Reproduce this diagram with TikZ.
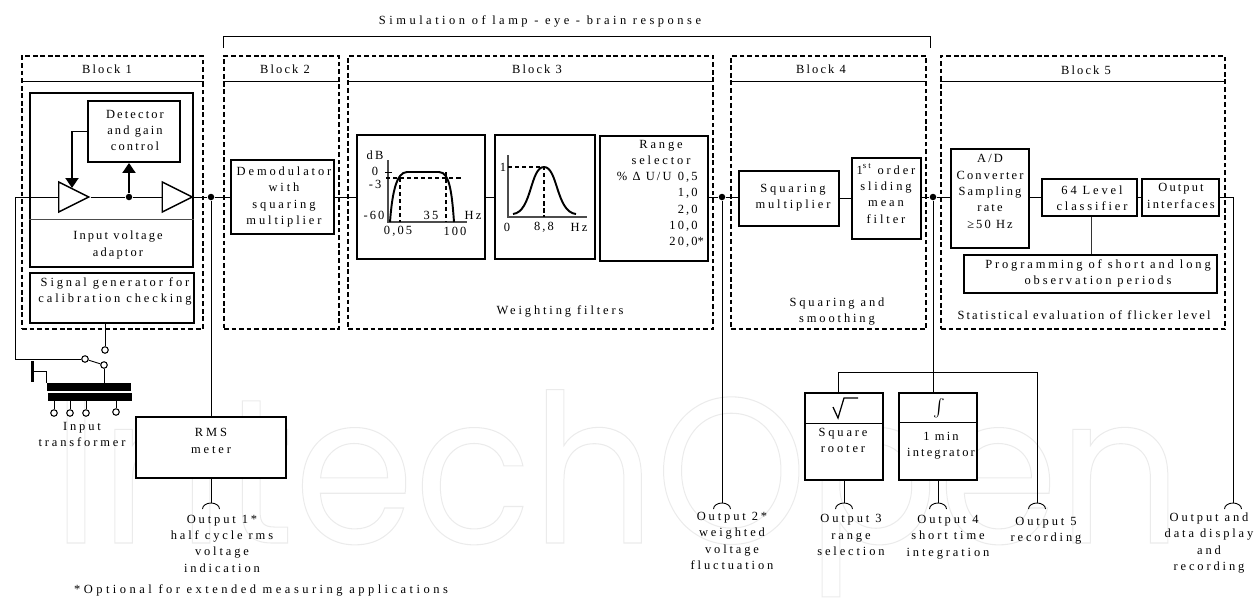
\documentclass[tikz,border=0pt]{standalone}
\usepackage{fontspec}
\setmainfont[LetterSpace=17]{Liberation Serif}
\newfontfamily\widefam[LetterSpace=23]{Liberation Serif}
\newfontfamily\xwidefam[LetterSpace=28]{Liberation Serif}
\newfontfamily\wmfont{Poppins}
\usetikzlibrary{arrows.meta,positioning,shapes.geometric}
\newcommand{\labfont}{\fontsize{7.1}{9.3}\selectfont}

\begin{document}
\begin{tikzpicture}[
    x=0.02cm, y=-0.02cm,
    wh/.style 2 args={minimum width=#1*0.02cm, minimum height=#2*0.02cm},
    blockframe/.style={draw, line width=1.4pt, dash pattern=on 2.7pt off 1.6pt, inner sep=0pt},
    sbox/.style={draw, line width=1.1pt, fill=white, inner sep=0pt},
    wire/.style={line width=0.5pt},
    lab/.style={font=\labfont, align=center, inner sep=0pt},
    labw/.style={lab, font=\labfont\widefam},
    labx/.style={lab, font=\labfont\xwidefam},
    dotnode/.style={circle, fill=black, inner sep=0pt, minimum size=0.13cm},
    term/.style={circle, draw, line width=0.6pt, fill=white, inner sep=0pt, minimum size=0.13cm},
    amp/.style={isosceles triangle, isosceles triangle stretches, draw, line width=0.8pt, inner sep=0pt, wh={30}{30}},
    core/.style={fill=black, inner sep=0pt},
    feed/.style={line width=1.1pt, -{Triangle[length=0.2cm, width=0.26cm]}},
    chart/.style={line width=1.1pt},
    chartdash/.style={line width=0.9pt, dash pattern=on 2.4pt off 1.6pt},
    axis/.style={line width=0.7pt, black!70},
    jackcap/.pic={\draw[wire] (-8.5,6) arc[start angle=180, end angle=0, x radius=0.17cm, y radius=0.12cm];},
]
\useasboundingbox (0,0) rectangle (1260,599);

% Watermark behind everything
\node[anchor=base west, inner sep=0pt, font=\fontsize{118}{118}\selectfont, transform shape, xscale=0.933] (wm) at (52,543)
    {\special{pdf:literal 1 Tr 0.6 w 0.92 G}\wmfont IntechOpen\special{pdf:literal 0 Tr}};

% Top: bracket
\node[labx] (simtxt) at (540,21) {Simulation of lamp - eye - brain response};
\coordinate (brl) at (223,48);
\coordinate (brr) at (930,48);
\coordinate (brt) at (0,36);
\draw[wire] (brl) -- (brl |- brt) -- (brr |- brt) -- (brr);

% Dashed blocks
\node[blockframe, wh={181}{273}] (bk1) at (112.5,192.5) {};
\node[blockframe, wh={115}{273}] (bk2) at (281.5,192.5) {};
\node[blockframe, wh={365}{273}] (bk3) at (530.5,192.5) {};
\node[blockframe, wh={195}{273}] (bk4) at (828.5,192.5) {};
\node[blockframe, wh={284}{273}] (bk5) at (1083,192.5) {};
\coordinate (hdr) at (0,81);
\draw[wire] (bk1.west |- hdr) -- (bk1.east |- hdr);
\draw[wire] (bk2.west |- hdr) -- (bk2.east |- hdr);
\draw[wire] (bk3.west |- hdr) -- (bk3.east |- hdr);
\draw[wire] (bk4.west |- hdr) -- (bk4.east |- hdr);
\draw[wire] (bk5.west |- hdr) -- (bk5.east |- hdr);
\node[lab] (bk1txt) at (107,69) {Block 1};
\node[lab] (bk2txt) at (285,69) {Block 2};
\node[lab] (bk3txt) at (537,69) {Block 3};
\node[lab] (bk4txt) at (821,69) {Block 4};
\node[lab] (bk5txt) at (1086,70) {Block 5};

% Block 1
\node[sbox, wh={163}{174}] (adapt) at (111.5,180) {};
\coordinate (adaptsep) at (0,219);
\draw[wire, black!70] (adapt.west |- adaptsep) -- (adapt.east |- adaptsep);
\node[sbox, wh={92}{61}] (det) at (134,131.5) {};
\node[lab] (dettxt) at (135,130.5) {Detector\\and gain\\control};
\node[lab] (adapttxt) at (118,245) {Input voltage\\adaptor};
\node[sbox, wh={164}{50}] (gen) at (112,298) {};
\node[labw] (gentxt) at (115,291.5) {Signal generator for\\calibration checking};
\node[amp] (amp1) at (68,197) {};
\node[amp] (amp2) at (171.5,197) {};
\node[dotnode] (tap) at (129,197) {};
\coordinate (gain) at (72,188);
\draw[feed] (det.west) -| (gain);
\draw[feed] (tap) -- (tap |- det.south);
\coordinate (inlet) at (15,197);
\draw[wire] (inlet) -- (amp1.lower side);
\draw[wire] (amp1.apex) -- (tap) -- (amp2.lower side);

% Input transformer
\node[term] (sw1) at (85,359) {};
\node[term] (sw2) at (104,365) {};
\node[term] (sw3) at (105,350) {};
\node[core, wh={84}{8}] (tr1) at (89,387) {};
\node[core, wh={84}{8}] (tr2) at (90,397) {};
\node[core, wh={3}{21}] (gnd) at (32,371.5) {};
\node[term] (sec1) at (54,413) {};
\node[term] (sec2) at (70,413) {};
\node[term] (sec3) at (86,413) {};
\node[term] (sec4) at (116,412) {};
\draw[wire] (inlet) |- (sw1);
\draw[wire] (sw1) -- (sw2);
\draw[wire] (gen.south -| sw3) -- (sw3);
\draw[wire] (sw2) -- (sw2 |- tr1.north);
\draw[wire] (gnd.east) -| (tr1.north west);
\draw[wire] (sec1) -- (sec1 |- tr2.south);
\draw[wire] (sec2) -- (sec2 |- tr2.south);
\draw[wire] (sec3) -- (sec3 |- tr2.south);
\draw[wire] (sec4) -- (sec4 |- tr2.south);
\node[labw] (trtxt) at (82,434.5) {Input\\transformer};

% RMS meter
\node[dotnode] (j1) at (211,197) {};
\node[sbox, wh={150}{61}] (rms) at (211,447.5) {};
\node[labw] (rmstxt) at (211,441) {RMS\\meter};
\coordinate (o1) at (211,503);
\draw[wire] (amp2.apex) -- (j1);
\draw[wire] (j1) -- (rms.north);
\draw[wire] (rms.south) -- (o1);
\pic at (o1) {jackcap};
\node[labw] (o1txt) at (222,543.5) {Output 1*\\half cycle rms\\voltage\\indication};

% Block 2
\node[sbox, wh={103}{74}] (dem) at (282.5,197) {};
\node[labw] (demtxt) at (284,197) {Demodulator\\with\\squaring\\multiplier};
\draw[wire] (j1) -- (dem.west);

% Block 3
\node[sbox, wh={128}{124}] (bp) at (421,197) {};
\node[sbox, wh={100}{124}] (wf) at (545,197) {};
\node[sbox, wh={108}{125}] (rng) at (654,198.5) {};
\draw[wire] (dem.east) -- (dem.east -| bp.west);
\draw[wire] (bp.east |- wf.west) -- (wf.west);
% Band pass curve
\draw[axis] (388,160) -- (388,222) -- (467,222);
\draw[chart] (390,222) .. controls (392,195) and (396,172) .. (407,172) -- (439,172) .. controls (450,172) and (452,195) .. (454,222);
\draw[chartdash] (386,178) -- (462,178);
\draw[chartdash] (400,178) -- (400,222);
\draw[chartdash] (446,172) -- (446,222);
\draw[wire] (385,172) -- (392,172);
\node[lab] (dbtxt) at (375,155) {dB};
\node[lab] (db0) at (375,171) {0};
\node[lab] (db3) at (375,184) {-3};
\node[lab] (db60) at (374,215) {-60};
\node[lab] (f35) at (431,215) {35};
\node[lab] (fhz) at (473,215) {Hz};
\node[lab] (f005) at (398,231) {0,05};
\node[lab] (f100) at (455,231) {100};
% Bell curve
\draw[axis] (508,155) -- (508,217) -- (587,217);
\draw[chart] (513,214) .. controls (532,212) and (530,167) .. (544,167) .. controls (558,167) and (556,212) .. (576,214);
\draw[chartdash] (508,167) -- (544,167) -- (544,217);
\node[lab] (w1) at (503,167) {1};
\node[lab] (w0) at (507,227) {0};
\node[lab] (w88) at (544,227) {8,8};
\node[lab] (whz) at (579,227) {Hz};
% Range selector
\node[labw] (rngtxt) at (661,152.5) {Range\\selector};
\node[lab, align=right, anchor=east] (rngval) at (698,210) {\% Δ U/U\,\,\,0,5\\1,0\\2,0\\10,0\\20,0\rlap{*}};
\node[labw] (wftxt) at (560,311) {Weighting filters};

% Block 4
\node[dotnode] (j2) at (722,197) {};
\node[sbox, wh={100}{55}] (sq) at (789,198.5) {};
\node[labw] (sqtxt) at (793,198) {Squaring\\multiplier};
\node[sbox, wh={69}{81}] (mean) at (886.5,198.5) {};
\node[labw] (meantxt) at (886,193.5) {1\textsuperscript{st} order\\sliding\\mean\\filter};
\node[labw] (smtxt) at (837,311.5) {Squaring and\\smoothing};
\draw[wire] (rng.east |- j2) -- (j2) -- (sq.west |- j2);
\draw[wire] (sq.east |- mean.west) -- (mean.west);

% Block 5
\node[dotnode] (j3) at (933,197) {};
\node[sbox, wh={78}{99}] (ad) at (990,198.5) {};
\node[lab] (adtxt) at (990,191.5) {A/D\\Converter\\Sampling\\rate\\≥50 Hz};
\node[sbox, wh={95}{37}] (lev) at (1089.5,197.5) {};
\node[labw] (levtxt) at (1092,198.5) {64 Level\\classifier};
\node[sbox, wh={77}{37}] (oif) at (1180.5,197.5) {};
\node[lab] (oiftxt) at (1181,196) {Output\\interfaces};
\node[sbox, wh={253}{38}] (prog) at (1090.5,274) {};
\node[labw] (progtxt) at (1098,273.5) {Programming of short and long\\observation periods};
\node[lab] (stattxt) at (1084,315) {Statistical evaluation of flicker level};
\draw[wire] (mean.east |- j3) -- (j3) -- (ad.west |- j3);
\draw[wire] (ad.east |- lev.west) -- (lev.west);
\draw[wire] (lev.east) -- (oif.west);
\draw[wire, black!80] (lev.south -| 1091,0) -- (prog.north -| 1091,0);

% Outputs
\coordinate (o2) at (722,503);
\draw[wire] (j2) -- (o2);
\pic at (o2) {jackcap};
\node[labw] (o2txt) at (732,541) {Output 2*\\weighted\\voltage\\fluctuation};

\node[sbox, wh={78}{87}] (rt) at (844,436.5) {};
\node[sbox, wh={78}{87}] (int) at (938,436.5) {};
\coordinate (bus) at (0,372);
\coordinate (rtin) at (838,393);
\coordinate (o3) at (844,503);
\coordinate (o4) at (938,503);
\coordinate (o5) at (1037,503);
\draw[wire] (j3) -- (j3 |- int.north);
\draw[wire] (rtin) |- (o5 |- bus) -- (o5);
\draw[wire] (rt.south) -- (o3);
\draw[wire] (int.south) -- (o4);
\pic at (o3) {jackcap};
\pic at (o4) {jackcap};
\pic at (o5) {jackcap};
\draw[wire] (rt.west |- 0,423) -- (rt.east |- 0,423);
\draw[wire] (int.west |- 0,422) -- (int.east |- 0,422);
\draw[line width=0.7pt] (833,407) -- (838,418) -- (844,398) -- (858,398);
\node[lab, font=\fontsize{10}{10}\selectfont] (inttxt) at (939,408) {$\int$};
\node[labw] (rttxt) at (843,440.5) {Square\\rooter};
\node[lab] (mintxt) at (941,445.5) {1 min\\integrator};
\node[labw] (o3txt) at (851,535) {Output 3\\range\\selection};
\node[labw] (o4txt) at (948,537) {Output 4\\short time\\integration};
\node[labw] (o5txt) at (1046,530.5) {Output 5\\recording};

\coordinate (o6) at (1233,503);
\draw[wire] (oif.east) -| (o6);
\pic at (o6) {jackcap};
\node[labw] (o6txt) at (1209,543) {Output and\\data display\\and\\recording};

% Footnote
\node[labx] (notetxt) at (261,590) {*Optional for extended measuring applications};
\end{tikzpicture}
\end{document}
